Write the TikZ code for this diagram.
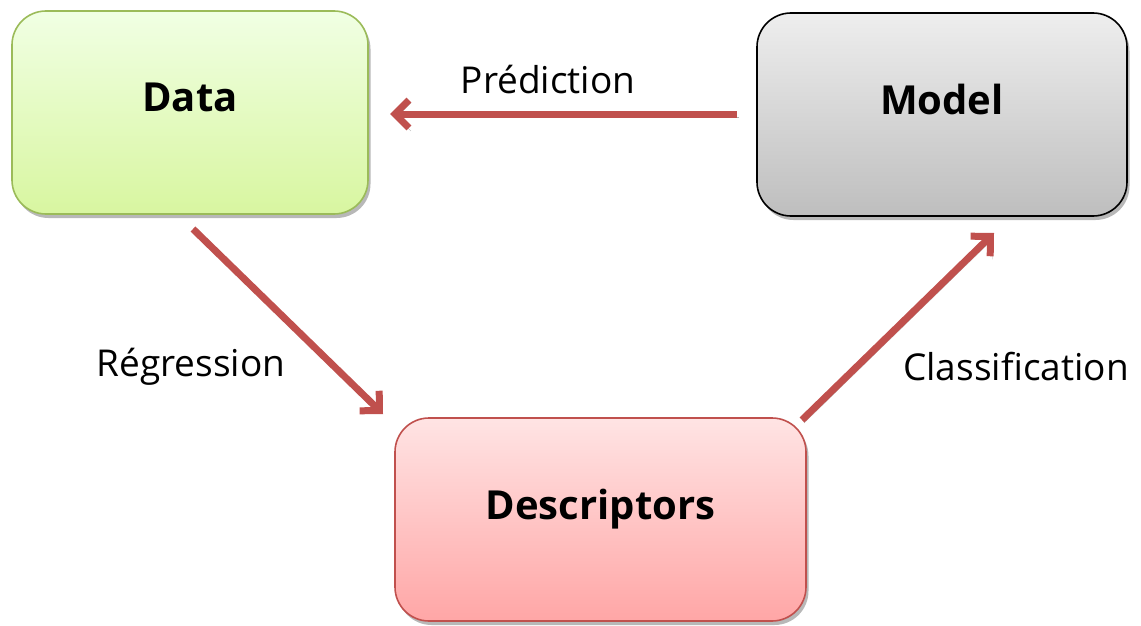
\documentclass[tikz,border=0pt]{standalone}
\usepackage{fontspec}
\setmainfont{Open Sans}
\usetikzlibrary{arrows.meta,shadows}
\definecolor{arrowred}{HTML}{C0504D}
\definecolor{greenborder}{HTML}{9BBB59}
\tikzset{
  box/.style={rounded corners=34pt, line width=1.6pt, minimum width=#1, minimum height=203pt,
    font=\fontsize{40}{48}\selectfont\bfseries, text=black, text depth=30pt,
    drop shadow={shadow xshift=2.5pt, shadow yshift=-4pt, fill=gray!70, opacity=0.8}},
  databox/.style={box=356pt, draw=greenborder, top color=green!6!white!95!yellow, bottom color={rgb,255:red,216;green,246;blue,160}},
  modelbox/.style={box=370pt, draw=black, top color={rgb,255:red,238;green,238;blue,238}, bottom color={rgb,255:red,190;green,190;blue,190}},
  descbox/.style={box=411pt, draw=arrowred, top color={rgb,255:red,255;green,228;blue,228}, bottom color={rgb,255:red,255;green,166;blue,166}},
  flow/.style={draw=arrowred, line width=7pt, -{Straight Barb[length=14pt,width=28pt]},
    preaction={draw=gray!60, transform canvas={shift={(2pt,-3pt)}}}},
  lbl/.style={font=\fontsize{37}{44}\selectfont, text=black}
}
\begin{document}
\begin{tikzpicture}[x=1pt,y=-1pt]
\useasboundingbox (0,0) rectangle (1141,626);
\node[databox] (data) at (190,112.5) {Data};
\node[modelbox] (model) at (942,114.5) {Model};
\node[descbox] (desc) at (600.5,519.5) {Descriptors};
\coordinate (p1) at (737,114);
\coordinate (p2) at (390,114);
\coordinate (r1) at (193,229);
\coordinate (r2) at (383,414);
\coordinate (c1) at (802,420);
\coordinate (c2) at (994,233);
\draw[flow] (p1) -- (p2);
\draw[flow] (r1) -- (r2);
\draw[flow] (c1) -- (c2);
\node[lbl] (lp) at (548,80) {Prédiction};
\node[lbl] (lr) at (191,367) {Régression};
\node[lbl] (lc) at (1016,367) {Classification};
\end{tikzpicture}
\end{document}
